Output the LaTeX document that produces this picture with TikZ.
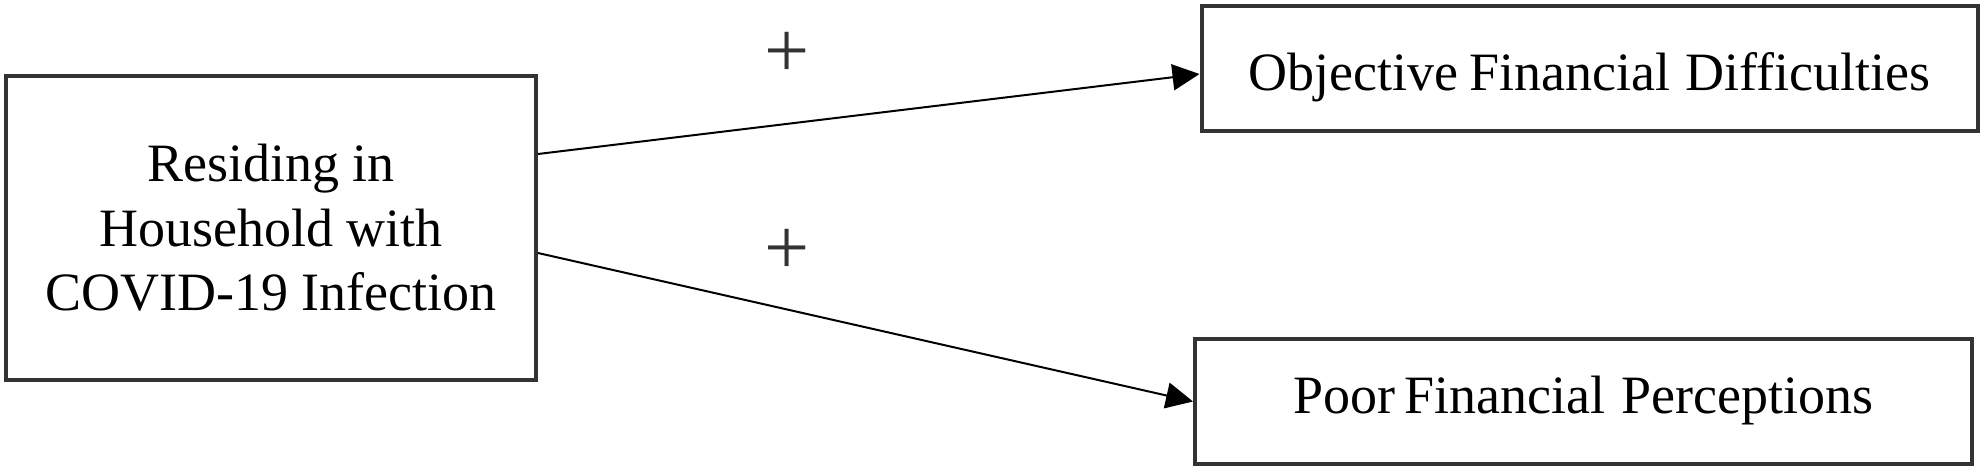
\documentclass[tikz,border=0pt]{standalone}
\usepackage{fontspec}
\setmainfont{Liberation Serif}
\usetikzlibrary{arrows.meta}
\definecolor{boxgray}{HTML}{333333}
\begin{document}
\begin{tikzpicture}[x=1pt,y=-1pt,
  box/.style={draw=boxgray,line width=4pt,inner sep=0pt,fill=white,
    font=\fontsize{54}{64.5}\selectfont,align=center},
  arr/.style={draw=black,line width=2pt,-{Triangle[length=27pt,width=26pt]}},
  sign/.style={font=\fontsize{80}{80}\selectfont,inner sep=0pt,text=boxgray}]
\useasboundingbox (0,0) rectangle (1984,466);
\node[box,minimum width=530pt,minimum height=304pt] (L) at (271,228)
  {Residing in\\Household with\\COVID-19 Infection};
\node[box,minimum width=776pt,minimum height=125pt,text height=50pt,text depth=6pt] (T) at (1589.5,68.5)
  {Objective\hspace{0.2em}Financial\hspace{0.28em}Difficulties};
\node[box,minimum width=777pt,minimum height=125pt,text height=37pt,text depth=14pt] (B) at (1583.5,401.5)
  {Poor\hspace{0.17em}Financial\hspace{0.3em}Perceptions};
\draw[arr] ([yshift=74pt]L.east) -- ([yshift=-5.5pt]T.west);
\draw[arr] ([yshift=-25pt]L.east) -- (B.west);
\node[sign] (p1) at (787,55) {+};
\node[sign] (p2) at (787,252) {+};
\end{tikzpicture}
\end{document}
